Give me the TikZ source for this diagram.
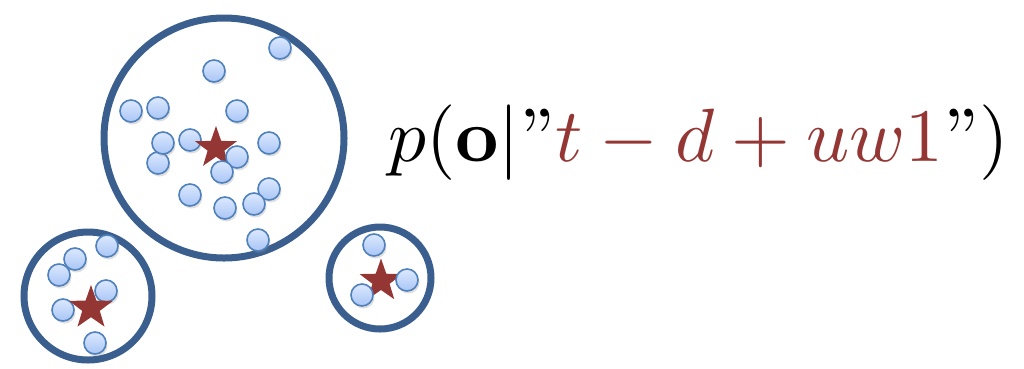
\documentclass[tikz,border=0pt]{standalone}
\usepackage{amsmath}
\usepackage{graphicx}
\usetikzlibrary{shapes.geometric,shadows}
\definecolor{ring}{HTML}{3A5F8E}
\definecolor{starred}{HTML}{943634}
\definecolor{dotedge}{HTML}{4F81BD}
\definecolor{dottop}{HTML}{DCE8FF}
\definecolor{dotbot}{HTML}{A9C6F5}
\tikzset{
  ringc/.style={draw=ring,line width=7pt},
  dot/.style={circle,draw=dotedge,line width=1.6pt,top color=dottop,bottom color=dotbot,
    minimum size=22pt,inner sep=0pt,
    drop shadow={opacity=0.25,shadow xshift=1.5pt,shadow yshift=-2.5pt}},
  centre/.style={star,star points=5,star point ratio=2.5,fill=starred,draw=none,inner sep=0pt}
}
\begin{document}
\begin{tikzpicture}[x=1pt,y=-1pt]
\useasboundingbox (0,0) rectangle (1024,368);
% rings
\draw[ringc] (224,138) circle (120);
\draw[ringc] (88,296) circle (64);
\draw[ringc] (380,278) circle (51);
% big cluster
\node[dot] (b1) at (280,48) {};
\node[dot] (b2) at (214,71) {};
\node[dot] (b3) at (131,111) {};
\node[dot] (b4) at (158,108) {};
\node[dot] (b5) at (237,111) {};
\node[dot] (b6) at (158,163) {};
\node[dot] (b7) at (163,143) {};
\node[dot] (b8) at (190,140) {};
\node[dot] (b9) at (269,143) {};
\node[centre,minimum size=44pt] (sb) at (216,148) {};
\node[dot] (b10) at (237,157) {};
\node[dot] (b11) at (222,172) {};
\node[dot] (b12) at (190,195) {};
\node[dot] (b13) at (269,189) {};
\node[dot] (b14) at (225,208) {};
\node[dot] (b15) at (254,204) {};
\node[dot] (b16) at (258,240) {};
% left cluster
\node[dot] (l1) at (107,246) {};
\node[dot] (l2) at (75,259) {};
\node[dot] (l3) at (59,275) {};
\node[dot] (l4) at (106,291) {};
\node[dot] (l5) at (63,310) {};
\node[dot] (l6) at (95,343) {};
\node[centre,minimum size=46pt] (sl) at (91,308) {};
% right cluster
\node[centre,minimum size=45pt] (sr) at (381,281) {};
\node[dot] (r1) at (374,245) {};
\node[dot] (r2) at (407,280) {};
\node[dot] (r3) at (362,295) {};
% formula
\node[anchor=west,inner sep=0pt] (f) at (388,143)
  {\scalebox{7.55}{$p(\mathbf{o}|\text{''}\color{starred}t-d+uw1\color{black}\text{''})$}};
\end{tikzpicture}
\end{document}
